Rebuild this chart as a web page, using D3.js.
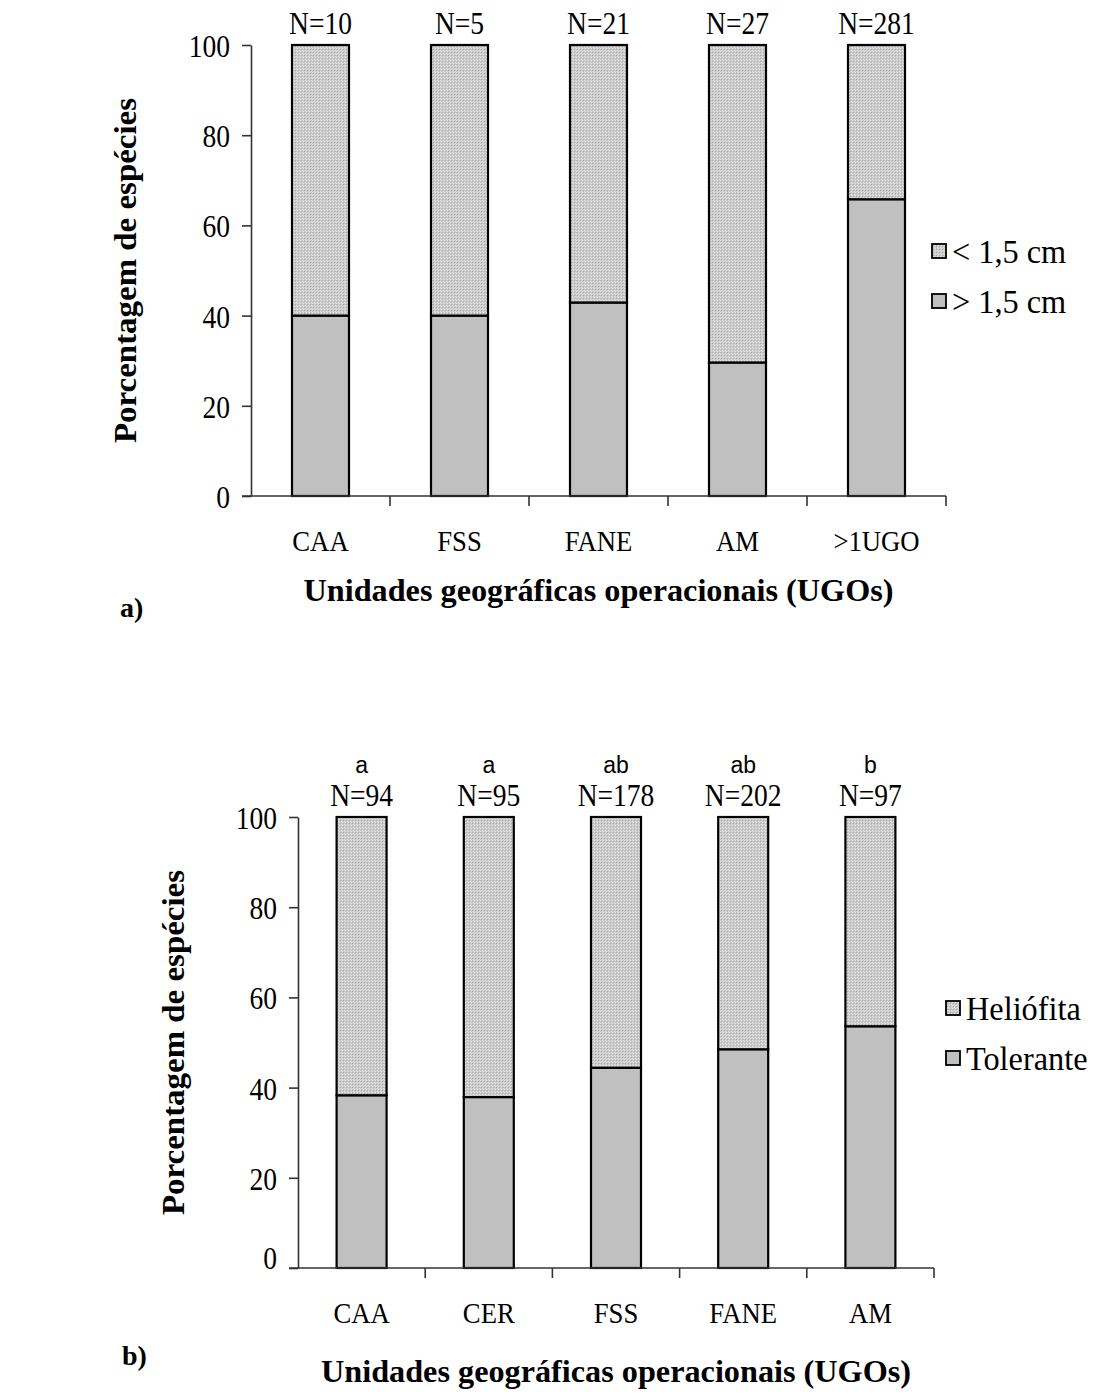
<!DOCTYPE html>
<html><head><meta charset="utf-8">
<script src="https://cdn.jsdelivr.net/npm/d3@7"></script>
<style>
body{margin:0;background:#fff}
text{font-family:"Liberation Serif","Times New Roman",serif;fill:#000}
</style>
</head><body>
<svg id="chart" width="1098" height="1396"></svg>
<script>
// --- chart a) data
var catsA = ["CAA", "FSS", "FANE", "AM", ">1UGO"];
var nA = ["N=10", "N=5", "N=21", "N=27", "N=281"];
var maiorA = [40, 40, 42.9, 29.6, 65.8];   // > 1,5 cm (bottom)
var menorA = [60, 60, 57.1, 70.4, 34.2];   // < 1,5 cm (top)
var legA = ["< 1,5 cm", "> 1,5 cm"];

// --- chart b) data
var catsB = ["CAA", "CER", "FSS", "FANE", "AM"];
var nB = ["N=94", "N=95", "N=178", "N=202", "N=97"];
var letrasB = ["a", "a", "ab", "ab", "b"];
var tolerB = [38.3, 37.9, 44.4, 48.5, 53.6];   // Tolerante (bottom)
var helioB = [61.7, 62.1, 55.6, 51.5, 46.4];   // Heliófita (top)
var legB = ["Heliófita", "Tolerante"];

var yTicks = [0, 20, 40, 60, 80, 100];
var yTitle = "Porcentagem de espécies";
var xTitle = "Unidades geográficas operacionais (UGOs)";

var svg = d3.select("#chart");

// dotted light grey fill for the top segment
var pat = svg.append("defs").append("pattern")
    .attr("id", "dots").attr("width", 3).attr("height", 3)
    .attr("patternUnits", "userSpaceOnUse");
pat.append("rect").attr("width", 3).attr("height", 3).attr("fill", "#c9c9c9");
pat.append("rect").attr("x", 0).attr("y", 0).attr("width", 1).attr("height", 1).attr("fill", "#e6e6e6");
pat.append("rect").attr("x", 1).attr("y", 1).attr("width", 1).attr("height", 1).attr("fill", "#a9a9a9");
pat.append("rect").attr("x", 2).attr("y", 2).attr("width", 1).attr("height", 1).attr("fill", "#e0e0e0");

var solid = "#c0c0c0";

// make the Times text narrower like the original
function squeeze(sel, k) {
    sel.each(function () {
        var w = this.getComputedTextLength();
        d3.select(this).attr("textLength", w * k).attr("lengthAdjust", "spacingAndGlyphs");
    });
}

function drawChart(o) {
    var g = svg.append("g");

    var x = d3.scaleBand()
        .domain(o.cats)
        .range([o.left, o.right])
        .paddingInner(o.pad)
        .paddingOuter(o.pad / 2);

    var y = d3.scaleLinear().domain([0, 100]).range([o.bottom, o.top]);

    var rows = o.cats.map(function (c, i) {
        return {cat: c, low: o.low[i], high: o.high[i]};
    });
    var stack = d3.stack().keys(["low", "high"])(rows);

    // bars
    g.selectAll("g.layer").data(stack).enter().append("g")
        .attr("class", "layer")
        .attr("fill", function (d, i) { return i === 0 ? solid : "url(#dots)"; })
        .selectAll("rect").data(function (d) { return d; }).enter().append("rect")
        .attr("x", function (d) { return x(d.data.cat); })
        .attr("width", x.bandwidth())
        .attr("y", function (d) { return y(d[1]); })
        .attr("height", function (d) { return y(d[0]) - y(d[1]); })
        .attr("stroke", "#000")
        .attr("stroke-width", 2.2);

    // y axis
    var ya = g.append("g")
        .attr("transform", "translate(" + o.left + ",0)")
        .call(d3.axisLeft(y).tickValues(yTicks).tickSize(9).tickPadding(12).tickSizeOuter(0));
    ya.select(".domain").attr("stroke", "#333").attr("stroke-width", 1.6);
    ya.selectAll(".tick line").attr("stroke", "#333").attr("stroke-width", 1.6);
    ya.selectAll(".tick text")
        .attr("font-family", "Liberation Serif").attr("font-size", 32)
        .attr("dy", "0.36em").call(squeeze, 0.86);
    if (o.zeroShift) ya.selectAll(".tick text").filter(function (d) { return d === 0; })
        .attr("dy", (0.36 - o.zeroShift) + "em");

    // x axis: baseline + ticks between categories
    var step = x.step();
    var bounds = d3.range(o.cats.length + 1).map(function (i) { return o.left + i * step; });
    g.append("line")
        .attr("x1", o.left - 9).attr("x2", o.right)
        .attr("y1", o.bottom).attr("y2", o.bottom)
        .attr("stroke", "#333").attr("stroke-width", 1.6);
    g.selectAll("line.xt").data(bounds.slice(1)).enter().append("line")
        .attr("class", "xt")
        .attr("x1", function (d) { return d; }).attr("x2", function (d) { return d; })
        .attr("y1", o.bottom).attr("y2", o.bottom + 10)
        .attr("stroke", "#333").attr("stroke-width", 1.6);

    // category labels
    g.selectAll("text.cat").data(o.cats).enter().append("text")
        .attr("class", "cat")
        .attr("x", function (d) { return x(d) + x.bandwidth() / 2; })
        .attr("y", o.bottom + 55)
        .attr("text-anchor", "middle")
        .attr("font-size", 29)
        .text(function (d) { return d; })
        .call(squeeze, 0.92);

    // N labels
    g.selectAll("text.n").data(o.ns).enter().append("text")
        .attr("class", "n")
        .attr("x", function (d, i) { return x(o.cats[i]) + x.bandwidth() / 2; })
        .attr("y", o.top - 11)
        .attr("text-anchor", "middle")
        .attr("font-size", 32)
        .text(function (d) { return d; })
        .call(squeeze, 0.86);

    // significance letters
    if (o.letters) {
        g.selectAll("text.let").data(o.letters).enter().append("text")
            .attr("class", "let")
            .attr("x", function (d, i) { return x(o.cats[i]) + x.bandwidth() / 2; })
            .attr("y", o.top - 44)
            .attr("text-anchor", "middle")
            .style("font-family", "'Liberation Sans', Arial, sans-serif")
            .attr("font-size", 23)
            .text(function (d) { return d; });
    }

    // axis titles
    g.append("text")
        .attr("transform", "translate(" + o.yTitleX + "," + (o.top + o.bottom) / 2 + ") rotate(-90)")
        .attr("text-anchor", "middle")
        .attr("font-weight", "bold")
        .attr("font-size", 31)
        .attr("textLength", 345).attr("lengthAdjust", "spacingAndGlyphs")
        .text(yTitle);

    g.append("text")
        .attr("x", (o.left + o.right) / 2 + o.xTitleDx)
        .attr("y", o.xTitleY)
        .attr("text-anchor", "middle")
        .attr("font-weight", "bold")
        .attr("font-size", 31)
        .attr("textLength", 590).attr("lengthAdjust", "spacingAndGlyphs")
        .text(xTitle);

    g.append("text")
        .attr("x", o.tagX).attr("y", o.tagY)
        .attr("font-weight", "bold").attr("font-size", 28)
        .text(o.tag);

    // legend
    var lg = g.selectAll("g.leg").data(o.legend).enter().append("g")
        .attr("class", "leg")
        .attr("transform", function (d, i) { return "translate(" + o.legX + "," + (o.legY + i * 50) + ")"; });
    lg.append("rect")
        .attr("x", 0).attr("y", -7).attr("width", 14).attr("height", 14)
        .attr("fill", function (d, i) { return i === 0 ? "url(#dots)" : solid; })
        .attr("stroke", "#000").attr("stroke-width", 1.8);
    lg.append("text")
        .attr("x", 20).attr("y", 0).attr("dy", "0.35em")
        .attr("font-size", 34)
        .text(function (d) { return d; })
        .call(squeeze, 0.95);
}

drawChart({
    cats: catsA, ns: nA, low: maiorA, high: menorA, legend: legA,
    left: 251, right: 946, top: 45, bottom: 496, pad: 0.59,
    yTitleX: 136, xTitleY: 601, xTitleDx: 0,
    tag: "a)", tagX: 120, tagY: 617,
    legX: 932, legY: 251
});

drawChart({
    cats: catsB, ns: nB, low: tolerB, high: helioB, legend: legB, letters: letrasB,
    left: 298, right: 934, top: 817, bottom: 1268, pad: 0.607,
    yTitleX: 184, xTitleY: 1382, xTitleDx: 0,
    tag: "b)", tagX: 122, tagY: 1365,
    legX: 946, legY: 1008, zeroShift: 0.35
});
</script>
</body></html>
